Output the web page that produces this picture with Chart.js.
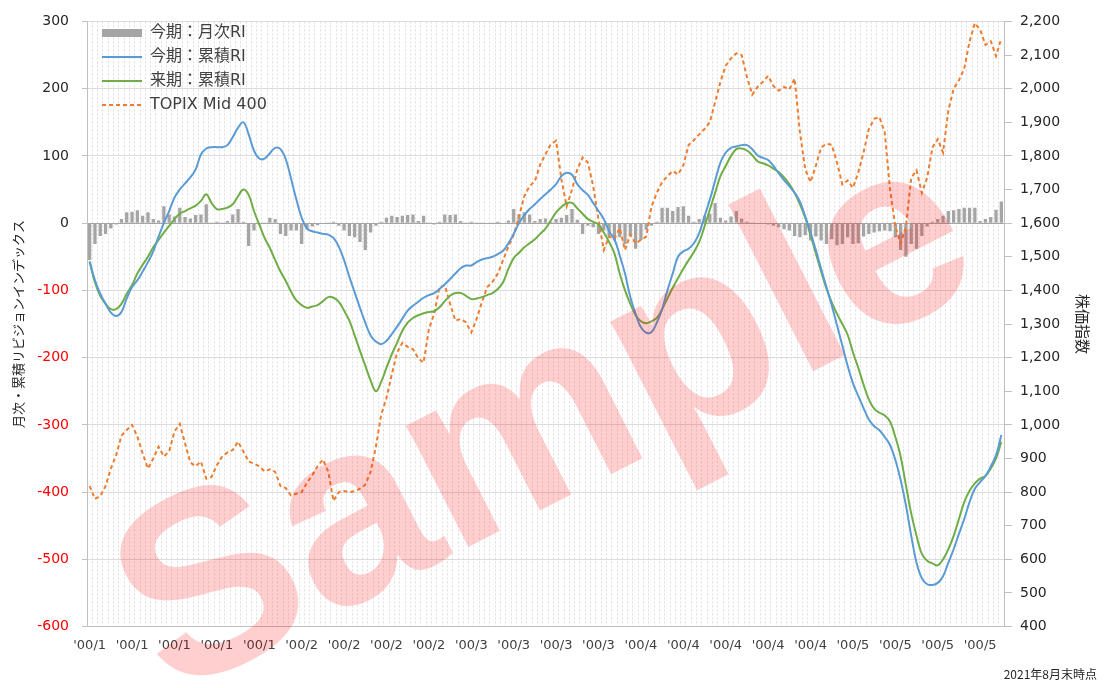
<!DOCTYPE html>
<html>
<head>
<meta charset="utf-8">
<script src="https://cdn.jsdelivr.net/npm/chart.js@4.4.1/dist/chart.umd.min.js"></script>
<style>
  html, body { margin: 0; padding: 0; background: #fff; }
</style>
</head>
<body>
<canvas id="chart" width="1113" height="688"></canvas>
<script>
// x-axis labels, one every 8 months
const tickLabels = ["'00/1", "'00/1", "'00/1", "'00/1", "'00/1",
                    "'00/2", "'00/2", "'00/2", "'00/2",
                    "'00/3", "'00/3", "'00/3", "'00/3",
                    "'00/4", "'00/4", "'00/4", "'00/4", "'00/4",
                    "'00/5", "'00/5", "'00/5", "'00/5"];

// 今期：月次RI (bars, left axis)
const monthlyRI = [
  -55, -31, -19, -16, -8, -2, 6, 16, 17, 19,
  11, 16, 6, 4, 25, 13, 10, 23, 9, 7,
  12, 13, 28, 1, 2, 1, 3, 13, 21, 2,
  -34, -11, -2, 1, 8, 6, -16, -19, -11, -11,
  -31, -9, -5, -3, 0, 1, 2, -4, -11, -19, -21,
  -28, -40, -14, -4, 2, 8, 11, 9, 11, 12,
  13, 3, 11, 1, -2, 2, 13, 12, 13, 3,
  1, 2, 1, 1, 0, 1, 2, 0, 4, 21,
  13, 16, 13, 3, 6, 7, 2, 6, 8, 12,
  21, 5, -16, -4, -6, -16, -11, -19, -26, -21,
  -31, -19, -38, -25, -10, -4, 2, 23, 23, 18,
  24, 25, 11, 2, 6, 11, 14, 30, 8, 4,
  10, 18, 7, 2, 1, -1, -1, -2, -4, -6, -9,
  -11, -19, -21, -18, -26, -20, -26, -31, -24, -33,
  -31, -21, -31, -30, -20, -16, -14, -12, -11, -12,
  -21, -40, -50, -31, -38, -19, -5, 2, 6, 11,
  18, 19, 21, 23, 23, 23, 3, 6, 9, 20, 32
];

// 今期：累積RI (left axis)
const cumRIThis = [
  -57, -85, -105, -120, -133, -138, -132, -112, -95, -85,
  -72, -58, -42, -20, 0, 18, 38, 50, 59, 68,
  80, 102, 111, 113, 113, 113, 116, 128, 142, 150,
  132, 108, 96, 96, 104, 112, 110, 95, 66, 35,
  8, -8, -12, -14, -16, -17, -22, -35, -55, -80, -103,
  -126, -148, -167, -176, -180, -175, -165, -154, -142, -130,
  -123, -117, -111, -107, -104, -98, -91, -83, -75, -67,
  -63, -63, -58, -54, -52, -50, -46, -41, -30, -16,
  0, 12, 21, 28, 36, 43, 50, 58, 70, 75,
  72, 58, 49, 42, 30, 18, 6, -12, -24, -48,
  -75, -110, -135, -155, -163, -162, -148, -128, -100, -75,
  -50, -42, -38, -30, -15, 10, 35, 63, 90, 105,
  112, 114, 116, 116, 110, 101, 97, 94, 85, 74, 64,
  55, 45, 32, 10, -14, -40, -68, -95, -122, -152,
  -182, -212, -238, -257, -275, -292, -302, -308, -318, -330,
  -352, -382, -420, -465, -505, -528, -537, -538, -535, -525,
  -505, -485, -462, -440, -415, -395, -385, -376, -362, -345, -315
];

// 来期：累積RI (left axis)
const cumRINext = [
  -57, -88, -108, -120, -128, -128, -120, -105, -92, -75,
  -62, -50, -36, -25, -14, -4, 6, 14, 18, 22,
  26, 33, 43, 30, 21, 21, 23, 28, 40, 50,
  42, 18, -2, -22, -37, -55, -72, -86, -102, -115,
  -122, -126, -124, -122, -116, -110, -111, -117, -130, -145, -167,
  -190, -212, -234, -250, -236, -215, -195, -178, -160, -148,
  -141, -137, -134, -132, -131, -125, -116, -108, -104, -104,
  -108, -113, -112, -110, -107, -104, -98, -88, -68, -52,
  -44, -36, -30, -24, -16, -8, 4, 16, 24, 30,
  30, 22, 14, 6, 2, -2, -14, -28, -45, -75,
  -100, -120, -137, -146, -149, -146, -141, -128, -112, -96,
  -82, -68, -55, -43, -28, -5, 20, 45, 70, 85,
  100, 110, 111, 108, 101, 92, 89, 86, 81, 76, 68,
  58, 45, 28, 8, -18, -45, -72, -97, -118, -135,
  -150, -166, -192, -215, -240, -262, -276, -282, -286, -295,
  -318, -347, -390, -432, -465, -492, -502, -506, -509, -500,
  -485, -465, -440, -415, -398, -387, -380, -376, -365, -350, -325
];

// TOPIX Mid 400 (right axis)
const topixMid400 = [
  818, 780, 788, 818, 870, 910, 968, 985, 1000, 965,
  915, 870, 900, 935, 906, 921, 980, 1003, 945, 888,
  877, 891, 840, 845, 880, 906, 918, 925, 950, 921,
  891, 885, 877, 862, 868, 860, 818, 812, 790, 795,
  800, 828, 850, 877, 897, 862, 774, 800, 803, 800, 803,
  810, 822, 860, 935, 1030, 1080, 1150, 1215, 1244, 1232,
  1225, 1198, 1185, 1285, 1330, 1410, 1415, 1360, 1310, 1315,
  1305, 1275, 1315, 1365, 1410, 1425, 1450, 1490, 1530, 1565,
  1620, 1680, 1710, 1725, 1774, 1805, 1835, 1845, 1730, 1650,
  1700, 1760, 1795, 1780, 1710, 1610, 1520, 1560, 1553, 1585,
  1520, 1565, 1540, 1550, 1560, 1650, 1690, 1722, 1740, 1755,
  1745, 1772, 1832, 1847, 1864, 1880, 1900, 1960, 2020, 2068,
  2090, 2105, 2100, 2035, 1982, 2005, 2020, 2038, 2008, 1994, 2005,
  1998, 2030, 1870, 1760, 1722, 1770, 1825, 1836, 1833, 1780,
  1715, 1727, 1705, 1750, 1810, 1880, 1910, 1915, 1870, 1700,
  1590, 1540, 1590, 1735, 1757, 1690, 1735, 1825, 1850, 1810,
  1935, 2000, 2025, 2060, 2140, 2195, 2175, 2130, 2141, 2097, 2150
];

const months = monthlyRI.map((_, i) => i);
const FONT = "'DejaVu Sans', 'Noto Sans CJK JP', sans-serif";
const JP_FONT = "'Noto Sans CJK JP', 'DejaVu Sans', sans-serif";

Chart.defaults.font.family = FONT;
Chart.defaults.color = '#404040';

// move the in-plot legend to where the original has it
const legendNudge = {
  id: 'legendNudge',
  afterLayout(chart) {
    chart.legend.left += 7;
    chart.legend.right += 7;
    chart.legend.top += 17;
    chart.legend.bottom += 17;
  }
};

// "Sample" watermark over the whole picture
const watermark = {
  id: 'watermark',
  afterDraw(chart) {
    const ctx = chart.ctx;
    ctx.save();
    ctx.translate(580, 490);
    ctx.rotate(-27 * Math.PI / 180);
    ctx.font = "bold 258px 'Liberation Sans'";
    ctx.fillStyle = 'rgba(255, 0, 0, 0.19)';
    ctx.textAlign = 'center';
    ctx.textBaseline = 'alphabetic';
    ctx.fillText('Sample', 0, 0);
    ctx.restore();
  }
};

new Chart(document.getElementById('chart').getContext('2d'), {
  type: 'bar',
  data: {
    labels: months,
    datasets: [
      {
        type: 'bar',
        label: '今期：月次RI',
        data: monthlyRI,
        backgroundColor: '#A5A5A5',
        borderWidth: 0,
        barPercentage: 0.62,
        categoryPercentage: 1.0,
        yAxisID: 'y',
        order: 1
      },
      {
        type: 'line',
        label: '今期：累積RI',
        data: cumRIThis,
        borderColor: '#5B9BD5',
        backgroundColor: '#5B9BD5',
        borderWidth: 2,
        pointRadius: 0,
        tension: 0.4,
        yAxisID: 'y',
        order: 0
      },
      {
        type: 'line',
        label: '来期：累積RI',
        data: cumRINext,
        borderColor: '#70AD47',
        backgroundColor: '#70AD47',
        borderWidth: 2,
        pointRadius: 0,
        tension: 0.4,
        yAxisID: 'y',
        order: 0
      },
      {
        type: 'line',
        label: 'TOPIX Mid 400',
        data: topixMid400,
        borderColor: '#ED7D31',
        backgroundColor: '#ED7D31',
        borderWidth: 2,
        borderDash: [4, 3],
        pointRadius: 0,
        tension: 0,
        yAxisID: 'y1',
        order: 0
      }
    ]
  },
  options: {
    responsive: false,
    animation: false,
    layout: { padding: { top: 15, right: 16, bottom: 0, left: 0 } },
    scales: {
      x: {
        type: 'category',
        afterFit: s => { s.height = 38; },
        grid: { color: 'rgba(0,0,0,0.13)', drawTicks: false },
        border: { color: '#bfbfbf', dash: [2, 2] },
        ticks: {
          autoSkip: false,
          maxRotation: 0,
          minRotation: 0,
          padding: 11,
          color: '#404040',
          font: { size: 13 },
          callback: (v, i) => (i % 8 === 0 ? tickLabels[i / 8] : '')
        }
      },
      y: {
        position: 'left',
        min: -600,
        max: 300,
        afterFit: s => { s.width = 87; },
        ticks: {
          stepSize: 100,
          padding: 13,
          font: { size: 14 },
          color: c => (c.tick.value < 0 ? '#FF0000' : '#262626')
        },
        grid: {
          color: c => (c.tick.value === 0 ? '#a6a6a6' : '#dcdcdc'),
          tickColor: '#bfbfbf',
          tickLength: 5
        },
        border: { color: '#bfbfbf' },
        title: {
          display: true,
          text: '月次・累積リビジョンインデックス',
          color: '#262626',
          font: { family: JP_FONT, size: 13 },
          padding: { top: 10, bottom: 0 }
        }
      },
      y1: {
        position: 'right',
        min: 400,
        max: 2200,
        afterFit: s => { s.width = 93; },
        ticks: {
          stepSize: 100,
          padding: 8,
          font: { size: 14 },
          color: '#262626',
          callback: v => v.toLocaleString('en-US')
        },
        grid: { drawOnChartArea: false, color: '#bfbfbf', tickLength: 8 },
        border: { color: '#bfbfbf' },
        title: {
          display: true,
          text: '株価指数',
          color: '#262626',
          font: { family: JP_FONT, size: 15 },
          padding: { top: 5, bottom: 0 }
        }
      }
    },
    plugins: {
      legend: {
        position: 'chartArea',
        align: 'start',
        labels: {
          usePointStyle: true,
          pointStyleWidth: 40,
          boxHeight: 8,
          padding: 8,
          color: '#404040',
          font: { size: 16 },
          sort: (a, b) => a.datasetIndex - b.datasetIndex,
          generateLabels(chart) {
            const items = Chart.defaults.plugins.legend.labels.generateLabels(chart);
            items.forEach(it => {
              const ds = chart.data.datasets[it.datasetIndex];
              if (ds.type === 'line') {
                it.pointStyle = 'line';
                it.lineWidth = ds.borderWidth;
                it.lineDash = ds.borderDash || [];
                it.strokeStyle = ds.borderColor;
              } else {
                it.pointStyle = 'rect';
                it.lineWidth = 0;
                it.fillStyle = ds.backgroundColor;
              }
            });
            return items;
          }
        }
      },
      subtitle: {
        display: true,
        text: '2021年8月末時点',
        position: 'bottom',
        align: 'end',
        color: '#262626',
        font: { family: JP_FONT, size: 12, weight: 'normal' },
        padding: { top: 3, bottom: 6 }
      },
      tooltip: { enabled: false }
    }
  },
  plugins: [legendNudge, watermark]
});
</script>
</body>
</html>
